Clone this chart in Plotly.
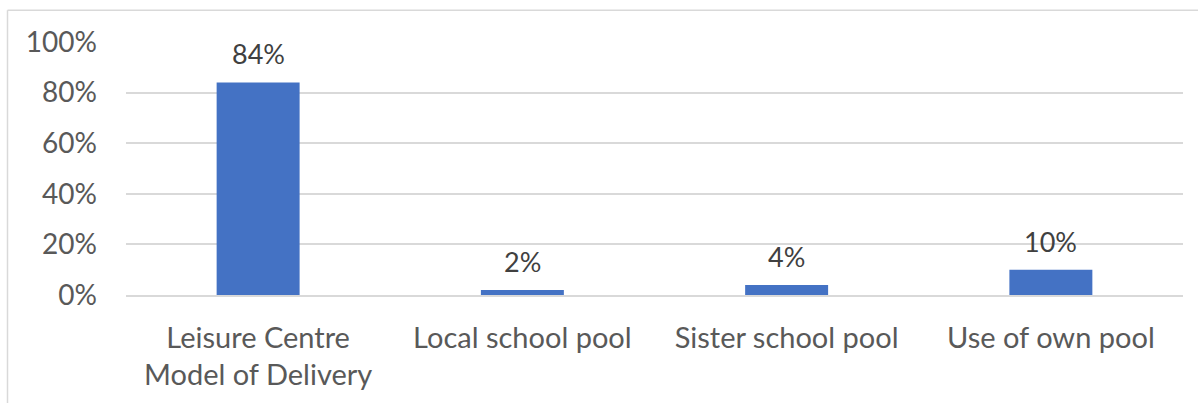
import plotly.graph_objects as go

categories = ["Leisure Centre<br>Model of Delivery", "Local school pool", "Sister school pool", "Use of own pool"]
values = [0.84, 0.02, 0.04, 0.10]
value_labels = ["84%", "2%", "4%", "10%"]
y_ticks = [0, 0.2, 0.4, 0.6, 0.8, 1.0]
y_tick_labels = ["0%", "20%", "40%", "60%", "80%", "100%"]

W, H = 1198, 403
ML, MR, MT, MB = 126, 15, 42, 106
pw = W - ML - MR
ph = H - MT - MB

fig = go.Figure()
fig.add_trace(go.Bar(
    x=categories, y=values,
    marker=dict(color="#4472C4", line=dict(width=0)),
    hoverinfo="skip",
))

for c, v, t in zip(categories, values, value_labels):
    fig.add_annotation(x=c, y=v, text=t, showarrow=False, yanchor="bottom",
                       yshift=10, font=dict(family="Lato", size=27, color="#404040"))

border = "#D9D9D9"
x_left = (7.5 - ML) / pw
y_top = (H - MB - 10) / ph
fig.add_shape(type="line", xref="paper", yref="paper", x0=x_left, x1=(W - ML) / pw + 0.01,
              y0=y_top, y1=y_top, line=dict(color=border, width=1.5))
fig.add_shape(type="line", xref="paper", yref="paper", x0=x_left, x1=x_left,
              y0=y_top, y1=-(MB + 5) / ph, line=dict(color=border, width=1.5))

fig.update_layout(
    width=W, height=H,
    margin=dict(l=ML, r=MR, t=MT, b=MB),
    paper_bgcolor="white", plot_bgcolor="white",
    bargap=0.686,
    showlegend=False,
    font=dict(family="Lato", color="#595959"),
    xaxis=dict(showgrid=False, showline=True, linecolor="#D9D9D9", linewidth=1.5,
               ticks="", tickfont=dict(size=29, color="#595959"), ticklabelstandoff=16),
    yaxis=dict(range=[0, 1], tickvals=y_ticks, ticktext=y_tick_labels,
               showgrid=True, gridcolor="#D9D9D9", gridwidth=1.5, zeroline=False,
               showline=False, ticks="", tickfont=dict(size=28, color="#595959"),
               ticklabelstandoff=28),
)

fig.write_html("out.html", config={"displayModeBar": False},
               post_script="document.body.style.margin='0';document.body.style.padding='0';")
